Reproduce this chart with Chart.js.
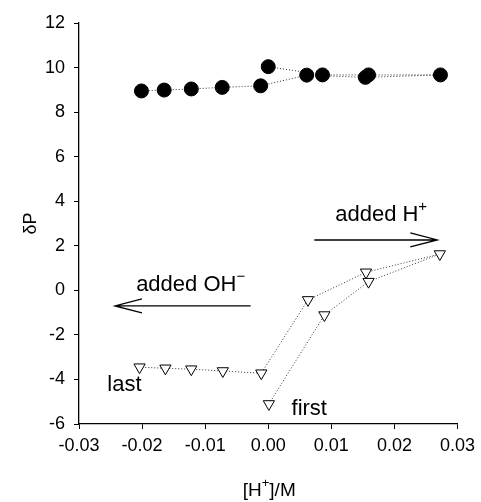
<!DOCTYPE html>
<html>
<head>
<meta charset="utf-8">
<script src="https://cdn.jsdelivr.net/npm/chart.js@4/dist/chart.umd.min.js"></script>
<style>
  html, body { margin: 0; padding: 0; background: #fff; }
  #wrap { width: 481px; height: 502px; }
</style>
</head>
<body>
<div id="wrap"><canvas id="chart"></canvas></div>
<script>
// filled circles, in titration order (first at 0, acid added, then base)
const circleX = [0.0000, 0.0086, 0.0159, 0.0273, 0.0154, 0.0061, -0.0012, -0.0073, -0.0122, -0.0165, -0.0201];
const circleY = [10.04, 9.67, 9.67, 9.67, 9.56, 9.66, 9.18, 9.11, 9.04, 8.99, 8.95];
// open triangles, same order
const triangleX = [0.0001, 0.0089, 0.0159, 0.0272, 0.0155, 0.0063, -0.0011, -0.0072, -0.0122, -0.0163, -0.0204];
const triangleY = [-5.10, -1.11, 0.39, 1.63, 0.81, -0.43, -3.72, -3.62, -3.54, -3.50, -3.45];

const xTicks = [-0.03, -0.02, -0.01, 0.00, 0.01, 0.02, 0.03];
const yTicks = [-6, -4, -2, 0, 2, 4, 6, 8, 10, 12];

const FONT = '"Liberation Sans", Arial, sans-serif';

const toPoints = (xs, ys) => xs.map((x, i) => ({ x: x, y: ys[i] }));

// text with a superscript part (and optional tail), centred on (cx, cy)
function supText(ctx, base, sup, tail, cx, cy, size) {
    const small = Math.round(size * 0.7);
    ctx.font = size + 'px ' + FONT;
    const wb = ctx.measureText(base).width;
    const wt = ctx.measureText(tail).width;
    ctx.font = small + 'px ' + FONT;
    const ws = ctx.measureText(sup).width;
    const left = cx - (wb + ws + wt) / 2;
    ctx.textBaseline = 'middle';
    ctx.textAlign = 'left';
    ctx.font = size + 'px ' + FONT;
    ctx.fillText(base, left, cy);
    ctx.fillText(tail, left + wb + ws, cy);
    ctx.font = small + 'px ' + FONT;
    ctx.fillText(sup, left + wb, cy - size * 0.38);
}

function arrow(ctx, x1, y, x2) {
    const dir = x2 > x1 ? 1 : -1;
    ctx.beginPath();
    ctx.moveTo(x1, y);
    ctx.lineTo(x2, y);
    ctx.moveTo(x2 - dir * 27, y - 7);
    ctx.lineTo(x2, y);
    ctx.lineTo(x2 - dir * 27, y + 7);
    ctx.stroke();
}

const notes = {
    id: 'notes',
    afterDraw(chart) {
        const ctx = chart.ctx;
        const xs = chart.scales.x, ys = chart.scales.y;
        const px = v => xs.getPixelForValue(v), py = v => ys.getPixelForValue(v);
        ctx.save();
        ctx.fillStyle = '#000';
        ctx.strokeStyle = '#000';
        ctx.lineWidth = 1.3;

        supText(ctx, 'added H', '+', '', px(0.0179), py(3.38), 22);
        arrow(ctx, px(0.0073), py(2.26), px(0.0268));

        supText(ctx, 'added OH', '\u2212', '', px(-0.0123), py(0.24), 22);
        arrow(ctx, px(-0.0028), py(-0.70), px(-0.0243));

        ctx.font = '22px ' + FONT;
        ctx.textAlign = 'center';
        ctx.textBaseline = 'middle';
        ctx.fillText('last', px(-0.0228), py(-4.25));
        ctx.fillText('first', px(0.0065), py(-5.33));

        // axis titles
        const mid = (chart.chartArea.left + chart.chartArea.right) / 2;
        supText(ctx, '[H', '+', ']/M', mid + 1, 491, 19);

        ctx.translate(31, py(3));
        ctx.rotate(-Math.PI / 2);
        ctx.font = '18px ' + FONT;
        ctx.textAlign = 'center';
        ctx.textBaseline = 'middle';
        ctx.fillText('\u03B4P', 0, 0);
        ctx.restore();
    }
};

const axisCommon = {
    grid: { display: true, drawOnChartArea: false, drawTicks: true, tickLength: 5, color: '#000', lineWidth: 1 },
    border: { display: true, color: '#000', width: 1.3 },
};

new Chart(document.getElementById('chart'), {
    type: 'scatter',
    data: {
        datasets: [{
            label: 'circles',
            data: toPoints(circleX, circleY),
            showLine: true,
            borderColor: '#333',
            borderWidth: 1,
            borderDash: [1, 2],
            pointStyle: 'circle',
            pointRadius: 7,
            pointBackgroundColor: '#000',
            pointBorderColor: '#000',
            pointBorderWidth: 1
        }, {
            label: 'triangles',
            data: toPoints(triangleX, triangleY),
            showLine: true,
            borderColor: '#333',
            borderWidth: 1,
            borderDash: [1, 2],
            pointStyle: 'triangle',
            pointRotation: 180,
            pointRadius: 6.5,
            pointBackgroundColor: '#fff',
            pointBorderColor: '#000',
            pointBorderWidth: 1
        }]
    },
    options: {
        responsive: true,
        maintainAspectRatio: false,
        animation: false,
        layout: { padding: { top: 23, right: 21, left: 0, bottom: 0 } },
        plugins: { legend: { display: false }, tooltip: { enabled: false } },
        scales: {
            x: {
                ...axisCommon,
                type: 'linear',
                min: -0.03,
                max: 0.03,
                afterBuildTicks: s => { s.ticks = xTicks.map(v => ({ value: v })); },
                afterFit: s => { s.height = 78; },
                ticks: {
                    color: '#000',
                    font: { family: FONT, size: 18 },
                    padding: 6,
                    maxRotation: 0,
                    callback: v => v.toFixed(2)
                }
            },
            y: {
                ...axisCommon,
                type: 'linear',
                min: -6,
                max: 12,
                afterBuildTicks: s => { s.ticks = yTicks.map(v => ({ value: v })); },
                afterFit: s => { s.width = 79; },
                ticks: {
                    color: '#000',
                    font: { family: FONT, size: 18 },
                    padding: 9,
                    callback: v => String(v)
                }
            }
        }
    },
    plugins: [notes]
});
</script>
</body>
</html>
